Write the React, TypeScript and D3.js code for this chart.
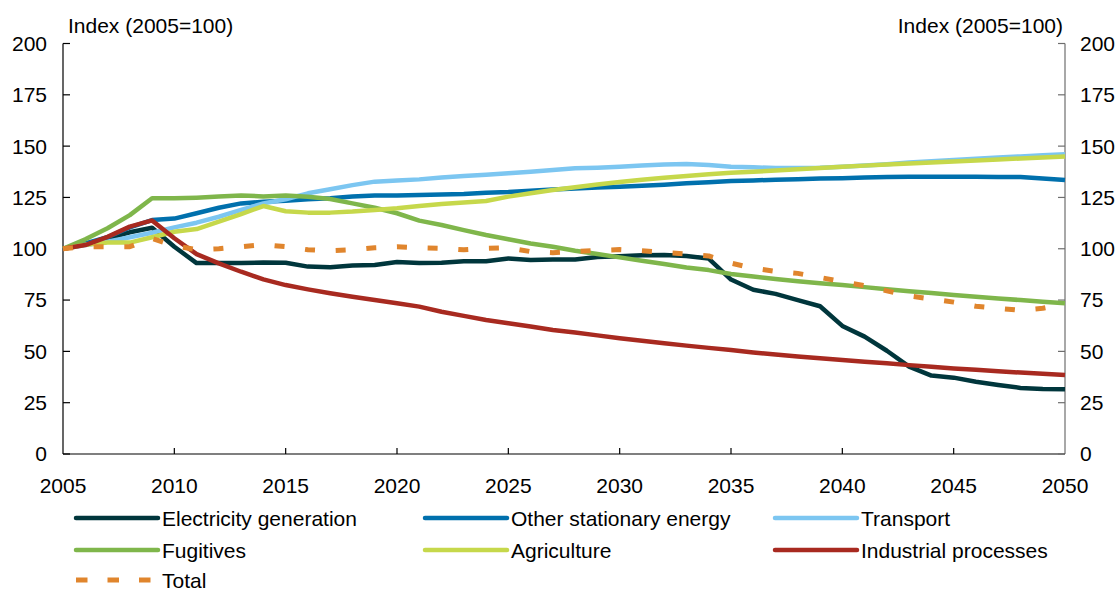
import React from "react";
import * as d3 from "d3";

const years: number[] = d3.range(2005, 2051);

const electricity = [
  100, 102, 105, 108, 110.2, 101, 93, 93, 93, 93.3,
  93.2, 91.3, 91, 91.8, 92.1, 93.5, 93, 93.2, 93.9, 93.9,
  95.3, 94.5, 94.8, 94.8, 96, 96.3, 96.8, 97, 96.5, 95.2,
  85, 80, 78, 75, 72, 62.4, 57.2, 50.3, 42.6, 38.2,
  37.2, 35.2, 33.6, 32.2, 31.7, 31.5,
];
const otherStationary = [
  100, 102.6, 105.6, 110.4, 114, 114.7, 117.3, 120, 122.1, 122.9,
  123.4, 124.1, 124.6, 125.4, 125.9, 125.9, 126.2, 126.4, 126.7, 127.3,
  127.6, 128.3, 128.9, 129.4, 129.8, 130.2, 130.7, 131.2, 131.9, 132.4,
  133, 133.3, 133.6, 133.9, 134.2, 134.4, 134.7, 134.9, 135.1, 135.1,
  135.1, 135.1, 135, 134.9, 134.2, 133.5,
];
const transport = [
  100, 101.8, 103.4, 105.6, 107.8, 110.4, 112.7, 115.6, 118.9, 122.1,
  124.1, 127, 129, 131, 132.7, 133.2, 133.8, 134.7, 135.4, 136.1,
  136.8, 137.5, 138.4, 139.2, 139.5, 140, 140.6, 141.1, 141.3, 140.8,
  140, 139.7, 139.3, 139.3, 139.5, 140, 140.6, 141.2, 142, 142.6,
  143.2, 143.8, 144.5, 145, 145.5, 146,
];
const fugitives = [
  100, 104.6, 110, 116.4, 124.6, 124.6, 124.9, 125.4, 126, 125.5,
  126, 125.3, 124.2, 122.1, 120, 117.3, 113.7, 111.6, 109.1, 106.7,
  104.6, 102.6, 101, 99, 97.4, 95.8, 94.2, 92.6, 90.9, 89.6,
  87.7, 86.5, 85.3, 84.2, 83.2, 82.3, 81.3, 80.3, 79.3, 78.4,
  77.5, 76.6, 75.8, 75, 74.2, 73.4,
];
const agriculture = [
  100, 102, 103, 103, 105.6, 108.3, 109.6, 113.2, 116.9, 120.8,
  118.3, 117.6, 117.6, 118.1, 118.9, 119.7, 120.8, 121.8, 122.5, 123.3,
  125.4, 127, 128.6, 130, 131.3, 132.5, 133.6, 134.6, 135.5, 136.3,
  137, 137.5, 138.1, 138.7, 139.4, 140, 140.5, 141, 141.5, 142,
  142.5, 143, 143.5, 144, 144.5, 145,
];
const industrial = [
  100, 101.8, 105.8, 110.8, 113.8, 105.1, 97.4, 92.9, 88.8, 85.1,
  82.3, 80.2, 78.3, 76.6, 75, 73.4, 71.8, 69.3, 67.3, 65.3,
  63.7, 62.1, 60.4, 59.2, 57.8, 56.4, 55.2, 54, 52.8, 51.7,
  50.7, 49.5, 48.5, 47.5, 46.6, 45.8, 45, 44.2, 43.3, 42.5,
  41.7, 41, 40.3, 39.7, 39.1, 38.5,
];
const total = [
  100, 101, 101, 101, 105, 101.5, 99.5, 100, 101, 102,
  101, 99.5, 99, 99.5, 100.5, 101, 100.5, 100.2, 99.5, 100.2,
  100.5, 98.6, 98.1, 98.7, 99.2, 99.6, 99, 98.2, 97.4, 96.5,
  93, 90.5, 89, 88, 86, 84, 82, 79.5, 77, 75.5,
  74, 72, 71, 70, 71, 73,
];

const seriesNames = [
  "Electricity generation",
  "Other stationary energy",
  "Transport",
  "Fugitives",
  "Agriculture",
  "Industrial processes",
  "Total",
];
const seriesValues = [electricity, otherStationary, transport, fugitives, agriculture, industrial, total];
const seriesColors = ["#00363c", "#0070ad", "#7cc6f1", "#7fb64b", "#c6d84b", "#a82a20", "#e0852d"];
const seriesDashed = [false, false, false, false, false, false, true];

const yTicks = [0, 25, 50, 75, 100, 125, 150, 175, 200];
const xTicks = [2005, 2010, 2015, 2020, 2025, 2030, 2035, 2040, 2045, 2050];
const axisTitle = "Index (2005=100)";

const W = 1119;
const H = 589;
const FONT = "'Liberation Sans', Arial, sans-serif";
const FS = 21;

function SText(props: { x: number; y: number; anchor?: string; children: React.ReactNode }) {
  return (
    <text
      x={props.x}
      y={props.y}
      textAnchor={props.anchor || "start"}
      fontFamily={FONT}
      fontSize={FS}
      fill="#000"
    >
      {props.children}
    </text>
  );
}

export default function App() {
  const x = d3.scaleLinear().domain([2005, 2050]).range([63, 1065]);
  const y = d3.scaleLinear().domain([0, 200]).range([454, 43.5]);
  const line = d3
    .line<number>()
    .x((_, i) => x(years[i]))
    .y((d) => y(d));

  const legendCols = [76, 425, 775];
  const legendRows = [518, 550, 580];

  return (
    <svg
      width={W}
      height={H}
      style={{ position: "absolute", left: 0, top: 0, background: "#fff" }}
    >
      <rect width={W} height={H} fill="#fff" />
      {/* axes */}
      <line x1={x(2005)} x2={x(2005)} y1={y(200)} y2={y(0)} stroke="#000" strokeWidth={1.2} />
      <line x1={x(2050)} x2={x(2050)} y1={y(200)} y2={y(0)} stroke="#6e6e6e" strokeWidth={1.2} />
      <line x1={x(2005)} x2={x(2050)} y1={y(0)} y2={y(0)} stroke="#000" strokeWidth={1.2} />
      {yTicks.map((t) => (
        <g key={"yt" + t}>
          <line x1={x(2005)} x2={x(2005) + 7} y1={y(t)} y2={y(t)} stroke="#000" strokeWidth={1.2} />
          <line x1={x(2050) - 7} x2={x(2050)} y1={y(t)} y2={y(t)} stroke="#6e6e6e" strokeWidth={1.2} />
          <SText x={47} y={y(t) + 7.4} anchor="end">{t}</SText>
          <SText x={1080} y={y(t) + 7.4} anchor="start">{t}</SText>
        </g>
      ))}
      {xTicks.map((t) => (
        <g key={"xt" + t}>
          {t !== 2005 && t !== 2050 && (
            <line x1={x(t)} x2={x(t)} y1={y(0) - 6} y2={y(0)} stroke="#000" strokeWidth={1.2} />
          )}
          <SText x={x(t)} y={492.5} anchor="middle">{t}</SText>
        </g>
      ))}
      <SText x={68} y={33}>{axisTitle}</SText>
      <SText x={1063} y={33} anchor="end">{axisTitle}</SText>

      {/* series */}
      {seriesValues.map((vals, i) => (
        <path
          key={"s" + i}
          d={line(vals) || ""}
          fill="none"
          stroke={seriesColors[i]}
          strokeWidth={seriesDashed[i] ? 5 : 4.5}
          strokeLinejoin="round"
          strokeDasharray={seriesDashed[i] ? "10,20.7" : undefined}
        />
      ))}

      {/* legend */}
      {seriesNames.map((name, i) => {
        const col = legendCols[i % 3];
        const row = legendRows[Math.floor(i / 3)];
        return (
          <g key={"lg" + i}>
            <line
              x1={col}
              x2={col + 82}
              y1={row}
              y2={row}
              stroke={seriesColors[i]}
              strokeWidth={seriesDashed[i] ? 5 : 4.5}
              strokeLinecap={seriesDashed[i] ? "butt" : "round"}
              strokeDasharray={seriesDashed[i] ? "11.5,20" : undefined}
            />
            <SText x={col + 86} y={row + 7.8}>{name}</SText>
          </g>
        );
      })}
    </svg>
  );
}
